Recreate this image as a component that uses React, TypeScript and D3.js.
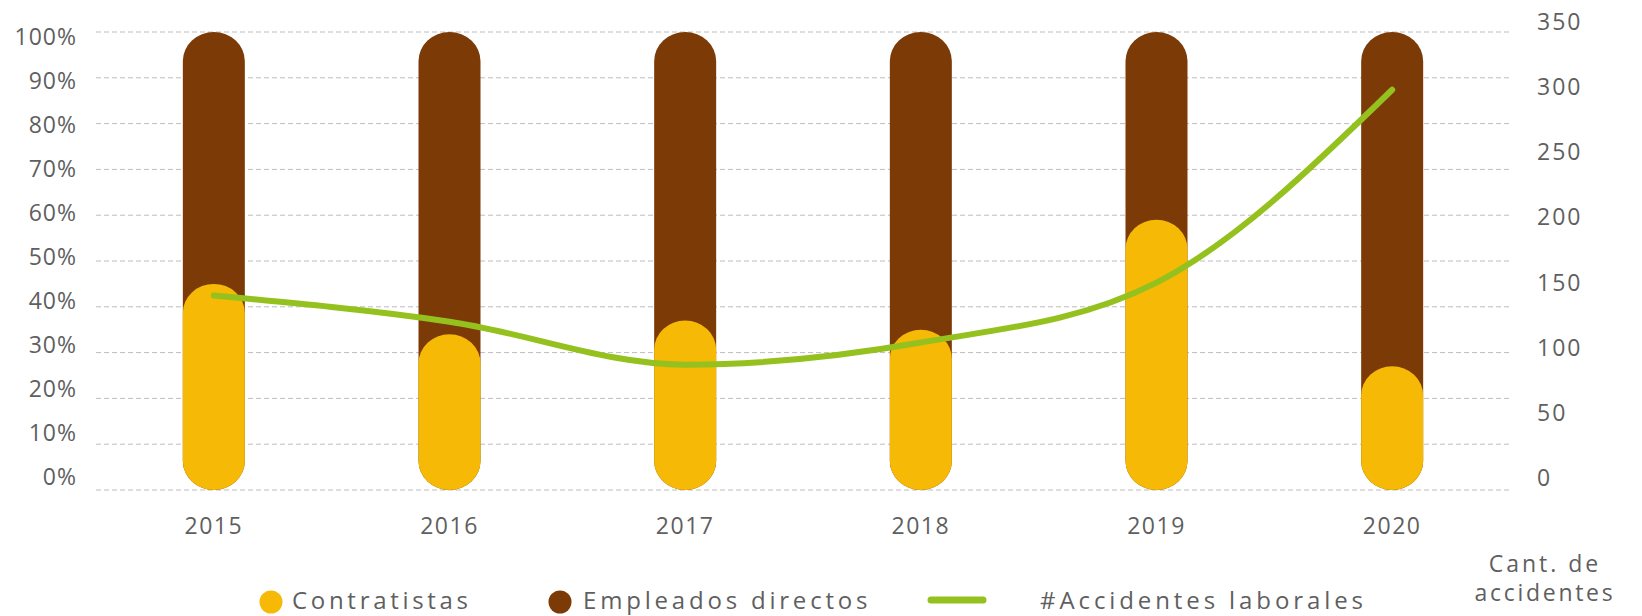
import * as d3 from 'd3';

const years = ['2015', '2016', '2017', '2018', '2019', '2020'];
const contratistas = [45, 34, 37, 35, 59, 27];
const empleados = [55, 66, 63, 65, 41, 73];
const accidentes = [140, 120, 87, 104, 150, 298];
const pctTicks = [0, 10, 20, 30, 40, 50, 60, 70, 80, 90, 100];
const countTicks = [0, 50, 100, 150, 200, 250, 300, 350];

const YELLOW = '#F6B905';
const BROWN = '#7B3A06';
const GREEN = '#95C11F';
const TEXT = '#5f5f5f';
const FONT = "'Open Sans', 'Noto Sans', sans-serif";

const width = 1642;
const height = 616;

export default function App() {
  const x = d3.scaleBand<string>().domain(years).range([96, 1510]);
  const yPct = d3.scaleLinear().domain([0, 100]).range([490, 32]);
  // tick labels sit slightly off the grid in the original
  const yPctLabel = d3.scaleLinear().domain([0, 100]).range([477, 37]);
  const yCount = d3.scaleLinear().domain([0, 350]).range([478, 22]);

  const barW = 62;
  const cx = (yr: string) => (x(yr) || 0) + x.bandwidth() / 2;

  const line = d3
    .line<number>()
    .x((_, i) => cx(years[i]))
    .y((d) => yCount(d))
    .curve(d3.curveMonotoneX);

  return (
    <svg
      width={width}
      height={height}
      style={{ position: 'absolute', left: 0, top: 0, fontFamily: FONT }}
    >
      {/* grid */}
      {pctTicks.map((t) => (
        <line
          key={'g' + t}
          x1={96}
          x2={1510}
          y1={yPct(t)}
          y2={yPct(t)}
          stroke="#bdbdbd"
          strokeWidth={1}
          strokeDasharray="5,3"
        />
      ))}

      {/* left axis labels */}
      {pctTicks.map((t) => (
        <text
          key={'l' + t}
          x={77}
          y={yPctLabel(t)}
          dy="0.35em"
          textAnchor="end"
          fontSize={23}
          letterSpacing={1}
          fill={TEXT}
        >
          {t}%
        </text>
      ))}

      {/* right axis labels */}
      {countTicks.map((t) => (
        <text
          key={'r' + t}
          x={1537}
          y={yCount(t)}
          dy="0.35em"
          fontSize={23}
          letterSpacing={2}
          fill={TEXT}
        >
          {t}
        </text>
      ))}

      {/* bars */}
      {years.map((yr, i) => {
        const total = contratistas[i] + empleados[i];
        const topB = yPct(total);
        const topY = yPct(contratistas[i]);
        return (
          <g key={yr}>
            <rect
              x={cx(yr) - barW / 2}
              y={topB}
              width={barW}
              height={yPct(0) - topB}
              rx={31}
              ry={29}
              fill={BROWN}
            />
            <rect
              x={cx(yr) - barW / 2}
              y={topY}
              width={barW}
              height={yPct(0) - topY}
              rx={31}
              ry={29}
              fill={YELLOW}
            />
          </g>
        );
      })}

      {/* line */}
      <path
        d={line(accidentes) || ''}
        fill="none"
        stroke={GREEN}
        strokeWidth={6}
        strokeLinecap="round"
      />

      {/* x labels */}
      {years.map((yr) => (
        <text
          key={'x' + yr}
          x={cx(yr)}
          y={534}
          textAnchor="middle"
          fontSize={23}
          letterSpacing={1.5}
          fill={TEXT}
        >
          {yr}
        </text>
      ))}

      {/* legend */}
      <circle cx={271} cy={602} r={11.5} fill={YELLOW} />
      <text x={292} y={609} fontSize={24} letterSpacing={3.7} fill={TEXT}>
        Contratistas
      </text>
      <circle cx={560} cy={602} r={11.5} fill={BROWN} />
      <text x={583} y={609} fontSize={24} letterSpacing={3.8} fill={TEXT}>
        Empleados directos
      </text>
      <line
        x1={931}
        x2={983}
        y1={600}
        y2={600}
        stroke={GREEN}
        strokeWidth={7}
        strokeLinecap="round"
      />
      <text x={1040} y={609} fontSize={24} letterSpacing={3.9} fill={TEXT}>
        #Accidentes laborales
      </text>
      <text x={1545} y={572} textAnchor="middle" fontSize={23} letterSpacing={3} fill={TEXT}>
        Cant. de
      </text>
      <text x={1545} y={601} textAnchor="middle" fontSize={23} letterSpacing={2.7} fill={TEXT}>
        accidentes
      </text>
    </svg>
  );
}
